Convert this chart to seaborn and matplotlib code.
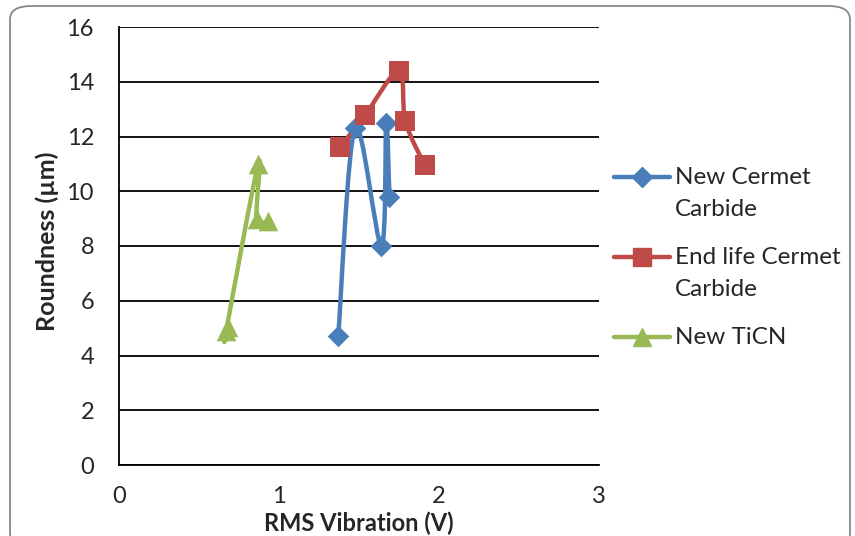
import numpy as np
import pandas as pd
import matplotlib
matplotlib.use("Agg")
import matplotlib.pyplot as plt
from matplotlib.path import Path
from matplotlib.patches import PathPatch, FancyBboxPatch
from matplotlib.lines import Line2D
import seaborn as sns

# series (x = RMS vibration in V, y = roundness in um)
cermet_new_x = [1.37, 1.475, 1.64, 1.67, 1.69]
cermet_new_y = [4.7, 12.3, 8.0, 12.5, 9.8]

cermet_end_x = [1.38, 1.54, 1.75, 1.79, 1.91]
cermet_end_y = [11.6, 12.8, 14.4, 12.55, 10.95]

ticn_new_x = [0.68, 0.67, 0.87, 0.86, 0.93]
ticn_new_y = [5.05, 4.9, 11.0, 9.0, 8.9]

series_names = ["New Cermet\nCarbide", "End life Cermet\nCarbide", "New TiCN"]
colors = ["#4A7EBB", "#BE4B48", "#98B954"]
markers = ["D", "s", "^"]
marker_sizes = [120, 190, 200]

x_ticks = [0, 1, 2, 3]
y_ticks = [0, 2, 4, 6, 8, 10, 12, 14, 16]

W, H = 855, 536


def smooth_path(xs, ys):
    # Excel style smoothed line: cubic bezier through each point
    pts = np.column_stack([xs, ys]).astype(float)
    n = len(pts)
    verts = [pts[0]]
    codes = [Path.MOVETO]
    for i in range(n - 1):
        p_prev = pts[max(i - 1, 0)]
        p0 = pts[i]
        p1 = pts[i + 1]
        p_next = pts[min(i + 2, n - 1)]
        c1 = p0 + (p1 - p_prev) / 6.0
        c2 = p1 - (p_next - p0) / 6.0
        verts += [c1, c2, p1]
        codes += [Path.CURVE4] * 3
    return Path(verts, codes)


sns.set_theme(style="white")
plt.rcParams["font.family"] = ["Lato", "DejaVu Sans"]

fig = plt.figure(figsize=(W / 100, H / 100), dpi=100)
ax = fig.add_axes([119 / W, 1 - 465 / H, 480 / W, 438 / H])

# outer chart frame
frame = FancyBboxPatch((10 / W, -0.02), 840 / W, 1 - 6 / H + 0.02,
                       boxstyle="round,pad=0,rounding_size=0.025",
                       transform=fig.transFigure, facecolor="none",
                       edgecolor="#888888", linewidth=1.3, zorder=0)
fig.patches.append(frame)

data = [
    (cermet_new_x, cermet_new_y),
    (cermet_end_x, cermet_end_y),
    (ticn_new_x, ticn_new_y),
]

for (xs, ys), color, marker, size in zip(data, colors, markers, marker_sizes):
    ax.add_patch(PathPatch(smooth_path(xs, ys), facecolor="none", edgecolor=color,
                           linewidth=3.2, zorder=3, capstyle="round", joinstyle="round"))
    df = pd.DataFrame({"x": xs, "y": ys})
    sns.scatterplot(data=df, x="x", y="y", marker=marker, color=color, s=size,
                    edgecolor=color, linewidth=0, ax=ax, zorder=4, legend=False)

ax.set_xlim(0, 3)
ax.set_ylim(0, 16)
ax.set_xticks(x_ticks)
ax.set_yticks(y_ticks)
ax.tick_params(axis="both", labelsize=17, length=0)
ax.tick_params(axis="y", pad=18)
ax.tick_params(axis="x", pad=15)
ax.yaxis.grid(True, color="black", linewidth=1.3)
ax.xaxis.grid(False)
for side in ["top", "right"]:
    ax.spines[side].set_visible(False)
for side in ["left", "bottom"]:
    ax.spines[side].set_color("black")
    ax.spines[side].set_linewidth(1.3)

ax.set_xlabel("RMS Vibration (V)", fontsize=17, fontweight="bold")
ax.set_ylabel("Roundness (µm)", fontsize=18, fontweight="bold")
ax.xaxis.set_label_coords(0.5, -(512 - 465) / 438)
ax.yaxis.set_label_coords((59 - 119) / 480, 0.51)

# legend drawn like the Excel one: handle aligned with the first text line
entry_y = [177, 257, 337]
for name, color, marker, ms, ey in zip(series_names, colors, markers, [10, 13, 13], entry_y):
    yf = 1 - ey / H
    fig.add_artist(Line2D([614 / W, 670 / W], [yf, yf], color=color, linewidth=3.2,
                          solid_capstyle="round", transform=fig.transFigure))
    fig.add_artist(Line2D([642 / W], [yf], marker=marker, markersize=ms, color=color,
                          markeredgecolor=color, transform=fig.transFigure))
    for k, line in enumerate(name.split("\n")):
        fig.text(675 / W, 1 - (ey + 32 * k) / H, line, fontsize=17.5,
                 ha="left", va="center")

fig.savefig("out.png", dpi=100)
